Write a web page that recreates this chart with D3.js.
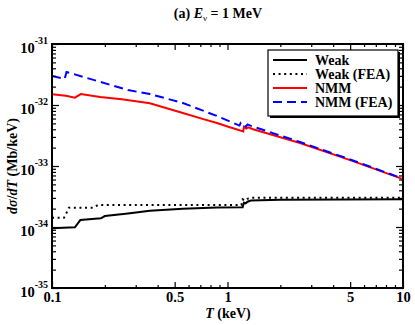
<!DOCTYPE html>
<html>
<head>
<meta charset="utf-8">
<script src="https://cdn.jsdelivr.net/npm/d3@7"></script>
<style>
body { margin: 0; background: white; }
text { font-family: "Liberation Serif", "DejaVu Serif", serif; font-weight: bold; fill: black; }
</style>
</head>
<body>
<script>
var w = 415;
var h = 325;
var plotLeft = 52, plotRight = 403, plotTop = 44, plotBottom = 288;

/*
    Values: recoil energy T (keV) and dσ/dT (Mb/keV).
*/
var weakT = [0.1, 0.135, 0.145, 0.19, 0.2, 0.271, 0.361, 0.557, 0.871, 1.22, 1.24, 1.27, 1.30, 1.36, 2, 10];
var weakV = [9.5e-35, 9.9e-35, 1.30e-34, 1.39e-34, 1.51e-34, 1.67e-34, 1.85e-34, 2.0e-34, 2.08e-34, 2.1e-34, 2.5e-34, 2.45e-34, 2.6e-34, 2.72e-34, 2.8e-34, 2.86e-34];

var weakFeaT = [0.1, 0.117, 0.121, 0.125, 0.171, 0.183, 1.2, 1.22, 1.26, 1.30, 1.36, 10];
var weakFeaV = [1.42e-34, 1.42e-34, 1.71e-34, 2.07e-34, 2.07e-34, 2.29e-34, 2.29e-34, 2.84e-34, 2.7e-34, 2.9e-34, 3.02e-34, 3.02e-34];

var nmmT = [0.1, 0.12, 0.135, 0.146, 0.188, 0.25, 0.361, 0.557, 0.697, 0.871, 1.0, 1.23, 1.24, 1.28, 1.31, 1.4, 2.59, 5, 10];
var nmmV = [1.50e-32, 1.42e-32, 1.32e-32, 1.51e-32, 1.35e-32, 1.24e-32, 1.07e-32, 7.4e-33, 6.1e-33, 5.07e-33, 4.45e-33, 3.7e-33, 4.4e-33, 4.1e-33, 4.3e-33, 4.0e-33, 2.38e-33, 1.25e-33, 6.1e-34];

var nmmFeaT = [0.1, 0.118, 0.121, 0.15, 0.271, 0.361, 0.557, 0.871, 1.17, 1.19, 1.24, 1.27, 1.30, 1.36, 2.59, 5, 10];
var nmmFeaV = [2.99e-32, 2.67e-32, 3.48e-32, 2.9e-32, 1.76e-32, 1.51e-32, 1.08e-32, 6.6e-33, 4.6e-33, 5.1e-33, 4.9e-33, 4.4e-33, 4.8e-33, 4.55e-33, 2.47e-33, 1.28e-33, 6.2e-34];

var seriesNames = ["Weak", "Weak (FEA)", "NMM", "NMM (FEA)"];

var xTicks = [0.1, 0.5, 1, 5, 10];
var xMinorTicks = [0.2, 0.3, 0.4, 0.6, 0.7, 0.8, 0.9, 2, 3, 4, 6, 7, 8, 9];
var yTicks = [1e-35, 1e-34, 1e-33, 1e-32, 1e-31];

/*
    Minor y ticks at 2..9 of every decade.
*/
var yMinorTicks = [];
yTicks.slice(0, -1).forEach(function(d){
    for (var k = 2; k <= 9; k++) yMinorTicks.push(k * d);
});

/*
    Styles for each series, in the same order as the names.
*/
var seriesStyle = [
    {color: "black", dash: null},
    {color: "black", dash: "2,3.6"},
    {color: "#ff0000", dash: null},
    {color: "#0000ff", dash: "9,5"}
];
var seriesData = [
    d3.zip(weakT, weakV),
    d3.zip(weakFeaT, weakFeaV),
    d3.zip(nmmT, nmmV),
    d3.zip(nmmFeaT, nmmFeaV)
];

var xScale = d3.scaleLog().domain([0.1, 10]).range([plotLeft, plotRight]);
var yScale = d3.scaleLog().domain([1e-35, 1e-31]).range([plotBottom, plotTop]);

var svg = d3.select("body")
    .append("svg")
    .attr("width", w)
    .attr("height", h);

svg.append("rect").attr("width", w).attr("height", h).attr("fill", "white");

/*
    Curves.
*/
var line = d3.line()
    .x(function(d){ return xScale(d[0]); })
    .y(function(d){ return yScale(d[1]); });

svg.selectAll("path.curve")
    .data(seriesData)
    .enter()
    .append("path")
    .attr("class", "curve")
    .attr("d", line)
    .attr("fill", "none")
    .attr("stroke", function(d, i){ return seriesStyle[i].color; })
    .attr("stroke-width", 2)
    .attr("stroke-dasharray", function(d, i){ return seriesStyle[i].dash; });

/*
    Axes, ticks inside on all four sides.
*/
function noDomain(g){ g.select(".domain").remove(); }

svg.append("g")
    .attr("transform", "translate(0," + plotBottom + ")")
    .call(d3.axisBottom(xScale).tickValues(xTicks).tickSizeInner(-6).tickSizeOuter(0).tickPadding(4)
        .tickFormat(function(d){ return String(d); }))
    .call(noDomain)
    .selectAll("text")
    .style("font-size", "14.5px");

svg.append("g")
    .attr("transform", "translate(0," + plotBottom + ")")
    .call(d3.axisBottom(xScale).tickValues(xMinorTicks).tickSizeInner(-3).tickSizeOuter(0).tickFormat(""))
    .call(noDomain);

svg.append("g")
    .attr("transform", "translate(0," + plotTop + ")")
    .call(d3.axisTop(xScale).tickValues(xTicks).tickSizeInner(-6).tickSizeOuter(0).tickFormat(""))
    .call(noDomain);

svg.append("g")
    .attr("transform", "translate(0," + plotTop + ")")
    .call(d3.axisTop(xScale).tickValues(xMinorTicks).tickSizeInner(-3).tickSizeOuter(0).tickFormat(""))
    .call(noDomain);

svg.append("g")
    .attr("transform", "translate(" + plotLeft + ",0)")
    .call(d3.axisLeft(yScale).tickValues(yTicks).tickSizeInner(-7).tickSizeOuter(0).tickPadding(4))
    .call(noDomain)
    .selectAll("text")
    .attr("dy", null)
    .attr("y", 8)
    .style("font-size", "14.5px")
    .text(null)
    .each(function(d){
        var t = d3.select(this);
        t.append("tspan").text("10");
        t.append("tspan").attr("dy", -9).style("font-size", "10px")
            .text("-" + Math.round(-Math.log10(d)));
    });

svg.append("g")
    .attr("transform", "translate(" + plotLeft + ",0)")
    .call(d3.axisLeft(yScale).tickValues(yMinorTicks).tickSizeInner(-4).tickSizeOuter(0).tickFormat(""))
    .call(noDomain);

svg.append("g")
    .attr("transform", "translate(" + plotRight + ",0)")
    .call(d3.axisRight(yScale).tickValues(yTicks).tickSizeInner(-7).tickSizeOuter(0).tickFormat(""))
    .call(noDomain);

svg.append("g")
    .attr("transform", "translate(" + plotRight + ",0)")
    .call(d3.axisRight(yScale).tickValues(yMinorTicks).tickSizeInner(-4).tickSizeOuter(0).tickFormat(""))
    .call(noDomain);

svg.selectAll(".tick line").attr("stroke", "black").attr("stroke-width", 1.2);

svg.append("rect")
    .attr("x", plotLeft).attr("y", plotTop)
    .attr("width", plotRight - plotLeft).attr("height", plotBottom - plotTop)
    .attr("fill", "none").attr("stroke", "black").attr("stroke-width", 2);

/*
    Legend box with shadow.
*/
var lgX = 268, lgY = 50, lgW = 130, lgH = 66;
svg.append("rect").attr("x", lgX + 2).attr("y", lgY + 2).attr("width", lgW).attr("height", lgH).attr("fill", "black");
svg.append("rect").attr("x", lgX).attr("y", lgY).attr("width", lgW).attr("height", lgH)
    .attr("fill", "white").attr("stroke", "black").attr("stroke-width", 1.2);

var lg = svg.selectAll("g.lg")
    .data(seriesNames)
    .enter()
    .append("g")
    .attr("class", "lg")
    .attr("transform", function(d, i){ return "translate(" + (lgX + 5) + "," + (lgY + 10 + i * 14) + ")"; });

lg.append("line")
    .attr("x1", 0).attr("x2", 34).attr("y1", 0).attr("y2", 0)
    .attr("stroke", function(d, i){ return seriesStyle[i].color; })
    .attr("stroke-width", 2)
    .attr("stroke-dasharray", function(d, i){ return seriesStyle[i].dash; });

lg.append("text")
    .attr("x", 42).attr("y", 5)
    .style("font-size", "14px")
    .text(function(d){ return d; });

/*
    Title and axis labels.
*/
var title = svg.append("text")
    .attr("x", 218).attr("y", 18)
    .attr("text-anchor", "middle")
    .style("font-size", "14px");
title.append("tspan").text("(a) ");
title.append("tspan").style("font-style", "italic").text("E");
title.append("tspan").attr("dy", 3).style("font-size", "9px").style("font-weight", "normal").text("ν");
title.append("tspan").attr("dy", -3).text(" = 1 MeV");

var xl = svg.append("text")
    .attr("x", 228).attr("y", 318)
    .attr("text-anchor", "middle")
    .style("font-size", "14px");
xl.append("tspan").style("font-style", "italic").text("T");
xl.append("tspan").text(" (keV)");

var yl = svg.append("text")
    .attr("transform", "translate(17,166) rotate(-90)")
    .attr("text-anchor", "middle")
    .style("font-size", "14px");
yl.append("tspan").style("font-style", "italic").text("dσ");
yl.append("tspan").text("/");
yl.append("tspan").style("font-style", "italic").text("dT");
yl.append("tspan").text(" (Mb/keV)");
</script>
</body>
</html>
